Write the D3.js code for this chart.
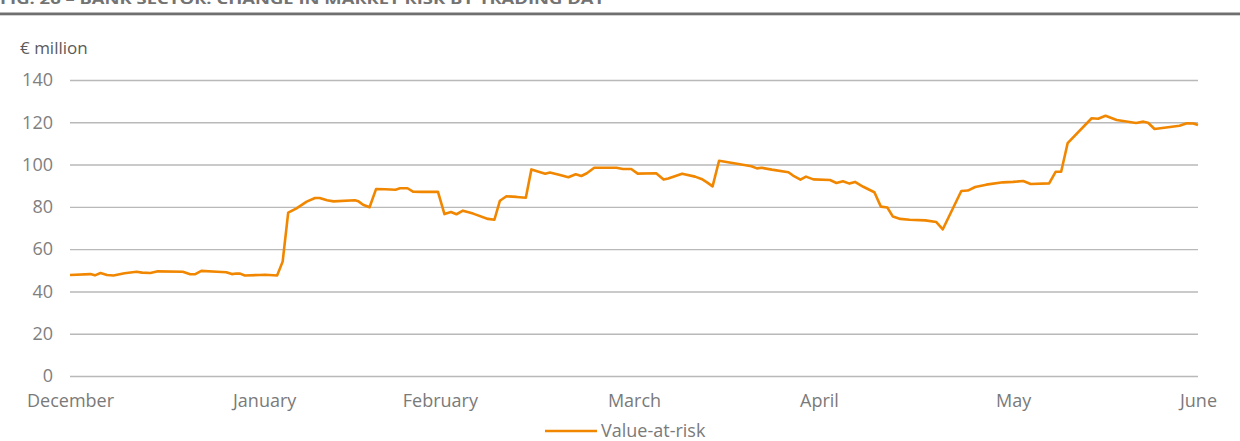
<!DOCTYPE html>
<html>
<head>
<meta charset="utf-8">
<script src="https://cdn.jsdelivr.net/npm/d3@7"></script>
<style>
  body { margin: 0; background: #fff; }
  svg { display: block; font-family: "Open Sans", sans-serif; }
</style>
</head>
<body>
<div id="chart"></div>
<script>

// trading day position (0 = start of December) and value-at-risk, € million
var tradingDay = [0, 2.2, 2.7, 3.3, 4.0, 4.7, 5.9, 7.2, 7.8, 8.7, 9.5, 12.2, 13.0, 13.5, 14.2, 15.9, 16.9, 17.5, 18.0, 18.4, 18.9, 20.5,
  21.1, 22.4, 23.0, 23.6, 24.5, 25.6, 26.5, 27.0, 27.8, 28.5, 30.8, 31.2, 31.7, 32.4, 33.1, 34.1, 35.2, 35.7, 36.5, 37.1, 38.0, 39.8,
  40.5, 41.2, 41.8, 42.5, 43.6, 45.2, 45.9, 46.5, 47.2, 48.3, 49.3, 49.9, 51.4, 51.9, 53.0, 53.9, 54.7, 55.3, 55.9, 56.7, 59.1, 59.8, 60.7,
  61.4, 63.4, 64.2, 64.7, 66.2, 67.6, 68.3, 68.9, 69.5, 70.2, 72.3, 73.7, 74.3, 74.8, 75.9, 77.7, 78.2, 79.0, 79.6, 80.4,
  82.2, 82.9, 83.6, 84.3, 84.9, 85.8, 87.0, 87.7, 88.4, 89.0, 89.8, 90.8, 92.5, 93.7, 94.4, 96.4, 97.1, 97.9, 99.1, 100.9,
  102.0, 103.1, 103.9, 105.9, 106.6, 107.2, 107.9, 110.5, 111.2, 112.0, 113.2, 115.3, 116.1, 116.6, 117.3, 120.0, 120.8, 121.5, 122];
var valueAtRisk = [47.8, 48.2, 47.6, 48.7, 47.8, 47.5, 48.6, 49.3, 48.9, 48.7, 49.5, 49.3, 48.1, 48.1, 49.7, 49.3, 49.1, 48.2, 48.5, 48.4, 47.5, 47.8,
  47.9, 47.5, 54.1, 77.3, 79.3, 82.5, 84.2, 84.2, 83.1, 82.6, 83.1, 82.6, 81.0, 79.8, 88.4, 88.3, 88.1, 88.8, 88.8, 87.2, 87.1, 87.1,
  76.6, 77.6, 76.5, 78.2, 76.8, 74.3, 73.9, 82.9, 85.0, 84.7, 84.3, 97.7, 95.7, 96.2, 95.1, 94.0, 95.4, 94.6, 95.9, 98.5, 98.5, 97.9, 97.9,
  95.7, 95.9, 92.9, 93.4, 95.7, 94.3, 93.2, 91.6, 89.7, 101.8, 100.3, 99.2, 98.2, 98.5, 97.6, 96.4, 94.8, 92.9, 94.3, 93.0,
  92.7, 91.3, 92.1, 91.0, 91.8, 89.5, 86.9, 80.1, 79.7, 75.4, 74.3, 73.9, 73.6, 72.8, 69.4, 87.5, 87.7, 89.4, 90.5, 91.6,
  91.8, 92.2, 90.8, 91.1, 96.6, 96.6, 110.1, 121.9, 121.7, 123.1, 121.1, 119.7, 120.3, 119.8, 116.8, 118.4, 119.5, 119.4, 118.7];

var monthStart = [0, 21, 40, 61, 81, 102, 122];
var monthNames = ["December", "January", "February", "March", "April", "May", "June"];
var yTicks = [0, 20, 40, 60, 80, 100, 120, 140];

var mydata = tradingDay.map(function(d, i) { return [d, valueAtRisk[i]]; });

var W = 1240, H = 441;
var margin = {top: 80, right: 42, bottom: 65, left: 70},
    width = W - margin.left - margin.right,
    height = H - margin.top - margin.bottom;

var svg = d3.select("#chart")
  .append("svg")
    .attr("width", W)
    .attr("height", H);

// cut-off figure title and rule
svg.append("text")
  .attr("x", 0)
  .attr("y", 4)
  .attr("textLength", 605)
  .attr("lengthAdjust", "spacingAndGlyphs")
  .style("font-size", "15px")
  .style("font-weight", "bold")
  .style("fill", "#737373")
  .text("FIG. 26 – BANK SECTOR: CHANGE IN MARKET RISK BY TRADING DAY");
svg.append("rect")
  .attr("x", 0).attr("y", 12.5)
  .attr("width", W).attr("height", 2.8)
  .style("fill", "#6f6f6f");

svg.append("text")
  .attr("x", 20)
  .attr("y", 54)
  .style("font-size", "17px")
  .style("fill", "#5a5a5a")
  .text("€ million");

var g = svg.append("g")
    .attr("transform", "translate(" + margin.left + "," + margin.top + ")");

var x = d3.scaleLinear()
  .domain([0, 122])
  .range([0, width]);
var y = d3.scaleLinear()
  .domain([0, 140])
  .range([height, 0]);

var yAxis = g.append("g")
  .call(d3.axisLeft(y).tickValues(yTicks).tickSize(-width).tickPadding(17));
yAxis.select(".domain").remove();
yAxis.selectAll(".tick line")
  .style("stroke", "#b9b9b9")
  .style("stroke-width", 1.4);
yAxis.selectAll(".tick text")
  .style("font-size", "18px")
  .style("font-family", "Open Sans")
  .style("fill", "#808080");

var xAxis = g.append("g")
  .attr("transform", "translate(0," + height + ")")
  .call(d3.axisBottom(x).tickValues(monthStart)
    .tickFormat(function(d, i) { return monthNames[i]; })
    .tickSize(0).tickPadding(18));
xAxis.select(".domain").remove();
xAxis.selectAll(".tick text")
  .style("font-size", "18px")
  .style("font-family", "Open Sans")
  .style("fill", "#7a7a7a");

var line = d3.line()
  .x(function(d) { return x(d[0]); })
  .y(function(d) { return y(d[1]); });

g.append("path")
  .datum(mydata)
  .attr("d", line)
  .style("fill", "none")
  .style("stroke", "#f18700")
  .style("stroke-width", 2.6)
  .style("stroke-linejoin", "round");

// legend
var lg = svg.append("g").attr("transform", "translate(545,431)");
lg.append("line")
  .attr("x1", 0).attr("x2", 52)
  .style("stroke", "#f18700")
  .style("stroke-width", 2.6);
lg.append("text")
  .attr("x", 56)
  .attr("dy", "0.35em")
  .style("font-size", "18px")
  .style("fill", "#7a7a7a")
  .text("Value-at-risk");

</script>
</body>
</html>
